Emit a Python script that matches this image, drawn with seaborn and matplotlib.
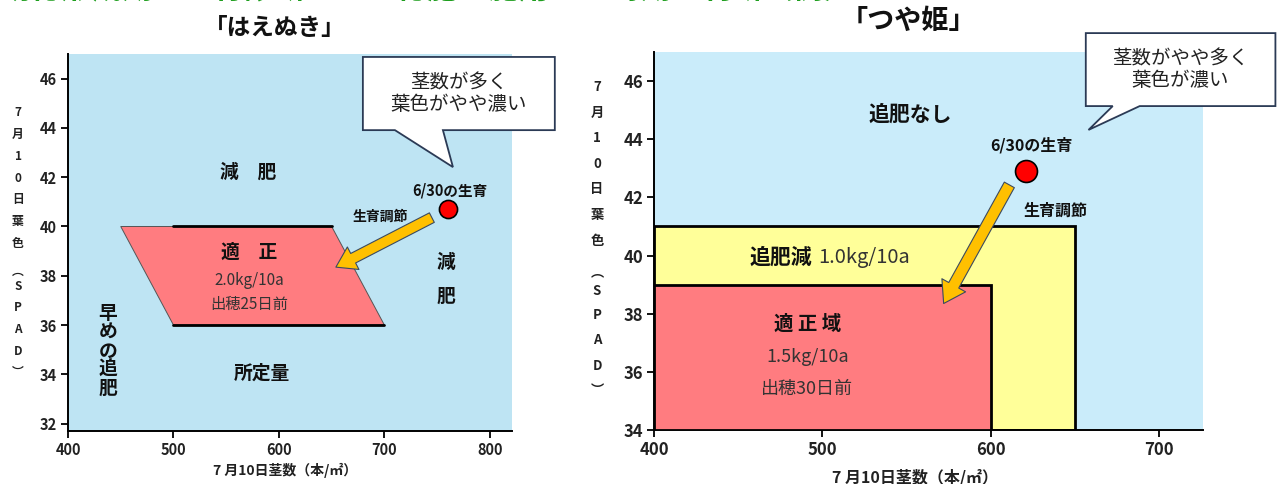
import matplotlib
matplotlib.use("Agg")
import matplotlib.pyplot as plt
from matplotlib.patches import Polygon, Rectangle
import seaborn as sns

W, H = 1280, 484

# はえぬき
haenuki_x_ticks = [400, 500, 600, 700, 800]
haenuki_y_ticks = [32, 34, 36, 38, 40, 42, 44, 46]
haenuki_opt_x = [450, 650, 700, 500]
haenuki_opt_y = [40, 40, 36, 36]
haenuki_now_x = [760]
haenuki_now_y = [40.7]
haenuki_target = (654, 38.35)

# つや姫
tsuya_x_ticks = [400, 500, 600, 700]
tsuya_y_ticks = [34, 36, 38, 40, 42, 44, 46]
tsuya_reduce_x = [400, 650]
tsuya_reduce_y = [34, 41]
tsuya_opt_x = [400, 600]
tsuya_opt_y = [34, 39]
tsuya_now_x = [621]
tsuya_now_y = [42.9]
tsuya_target = (572, 38.35)

YLABEL_CHARS = ["7", "月", "1", "0", "日", "葉", "色", "︵", "S", "P", "A", "D", "︶"]
YLABEL_SLOTS = [0, 1, 2, 3, 4, 5, 6, 7.25, 7.95, 8.9, 9.9, 10.9, 11.85]

sns.set_style("white")
plt.rcParams["font.family"] = ["Noto Sans CJK JP", "DejaVu Sans"]

ARROW_C = "#FFC000"
PINK = "#FF7C80"
YELLOW = "#FFFF99"


def style_axes(ax, xticks, yticks, size):
    ax.set_xticks(xticks)
    ax.set_yticks(yticks)
    for s in ["top", "right"]:
        ax.spines[s].set_visible(False)
    for s in ["left", "bottom"]:
        ax.spines[s].set_color("black")
        ax.spines[s].set_linewidth(1.4)
    ax.tick_params(direction="out", length=5, width=1.3, labelsize=size,
                   left=True, bottom=True, colors="black", pad=3)
    plt.setp(ax.get_xticklabels() + ax.get_yticklabels(), fontweight="bold",
             color="#222222")
    ax.set_xlabel("")
    ax.set_ylabel("")


def bubble(ax, x0, x1, yb, yt, base_l, base_r, tip, text, size):
    pts = [(x0, yt), (x1, yt), (x1, yb), (base_r, yb), tip, (base_l, yb), (x0, yb)]
    ax.add_patch(Polygon(pts, closed=True, fc="white", ec="#2B3A55", lw=1.3,
                         clip_on=False, zorder=6))
    ax.text((x0 + x1) / 2, (yb + yt) / 2, text, ha="center", va="center",
            fontsize=size, color="#222222", linespacing=1.0, zorder=7,
            clip_on=False)


def vertical_label(x_px, y0_px, step_px, size):
    for ch, s in zip(YLABEL_CHARS, YLABEL_SLOTS):
        fig.text(x_px / W, 1 - (y0_px + s * step_px) / H, ch, ha="center",
                 va="center", fontsize=size, fontweight="bold", color="#222222")


def growth_arrow(ax, tail, head, scale):
    ax.annotate("", xy=head, xytext=tail, zorder=5,
                arrowprops=dict(arrowstyle="simple,head_width=1.3,head_length=1.0,tail_width=0.55",
                                mutation_scale=scale, fc=ARROW_C, ec="#3A4A60",
                                lw=0.8, shrinkA=0, shrinkB=0))


fig = plt.figure(figsize=(W / 100, H / 100), dpi=100)

# 見出し（上端で切れている）
fig.text(0.0, 1 + 1.5 / H, "幼穂形成期の生育診断による穂肥の施用量と時期の判断（例）",
         ha="left", va="baseline", fontsize=22, fontweight="bold", color="#1E9E1E")

# ---------- はえぬき ----------
ax1 = fig.add_axes([68 / W, 1 - 431 / H, (512 - 68) / W, (431 - 54) / H])
ax1.set_facecolor("#BEE4F3")
ax1.set_xlim(400, 821)
ax1.set_ylim(31.7, 47)

ax1.add_patch(Polygon(list(zip(haenuki_opt_x, haenuki_opt_y)), closed=True,
                      fc=PINK, ec="#555555", lw=0.7, zorder=2))
ax1.plot([haenuki_opt_x[3], haenuki_opt_x[1]], [haenuki_opt_y[0]] * 2,
         color="black", lw=2, zorder=3)
ax1.plot([haenuki_opt_x[3], haenuki_opt_x[2]], [haenuki_opt_y[2]] * 2,
         color="black", lw=2, zorder=3)

sns.scatterplot(x=haenuki_now_x, y=haenuki_now_y, s=170, color="#FF0000",
                edgecolor="black", linewidth=1.2, ax=ax1, zorder=6, legend=False)
growth_arrow(ax1, (745, 40.36), haenuki_target, 14)

style_axes(ax1, haenuki_x_ticks, haenuki_y_ticks, 10.5)

bold = dict(ha="center", va="center", fontweight="bold", color="#111111")
thin = dict(ha="center", va="center", color="#333333")
ax1.text(571, 42.2, "減　肥", fontsize=13.5, **bold)
ax1.text(762, 41.45, "6/30の生育", fontsize=10.5, **bold)
ax1.text(696, 40.38, "生育調節", fontsize=10, **bold)
ax1.text(572, 38.95, "適　正", fontsize=13.5, **bold)
ax1.text(572, 37.8, "2.0kg/10a", fontsize=11, **thin)
ax1.text(572, 36.85, "出穂25日前", fontsize=11, **thin)
ax1.text(758, 38.55, "減", fontsize=13.5, **bold)
ax1.text(758, 37.15, "肥", fontsize=13.5, **bold)
ax1.text(584, 34.05, "所定量", fontsize=13.5, **bold)
for i, ch in enumerate("早めの追肥"):
    ax1.text(438, 36.45 - i * 0.75, ch, fontsize=13.5, **bold)

bubble(ax1, 679.6, 861.6, 43.91, 46.88, 710, 755.5, (765, 42.41),
       "茎数が多く\n葉色がやや濃い", 14)

fig.text(275 / W, 1 - 28 / H, "「はえぬき」", ha="center", va="center",
         fontsize=17, fontweight="bold", color="#111111")
fig.text(285 / W, 1 - 470 / H, "7 月10日茎数（本/㎡）", ha="center", va="center",
         fontsize=10, fontweight="bold", color="#222222")
vertical_label(18, 112, 22, 8.5)

# ---------- つや姫 ----------
ax2 = fig.add_axes([654 / W, 1 - 430 / H, (1203 - 654) / W, (430 - 52) / H])
ax2.set_facecolor("#CAECFA")
ax2.set_xlim(400, 726)
ax2.set_ylim(34, 47)

ax2.add_patch(Rectangle((tsuya_reduce_x[0], tsuya_reduce_y[0]),
                        tsuya_reduce_x[1] - tsuya_reduce_x[0],
                        tsuya_reduce_y[1] - tsuya_reduce_y[0],
                        fc=YELLOW, ec="black", lw=2, zorder=2))
ax2.add_patch(Rectangle((tsuya_opt_x[0], tsuya_opt_y[0]),
                        tsuya_opt_x[1] - tsuya_opt_x[0],
                        tsuya_opt_y[1] - tsuya_opt_y[0],
                        fc=PINK, ec="black", lw=2, zorder=3))

sns.scatterplot(x=tsuya_now_x, y=tsuya_now_y, s=250, color="#FF0000",
                edgecolor="black", linewidth=1.2, ax=ax2, zorder=6, legend=False)
growth_arrow(ax2, (611, 42.43), tsuya_target, 15)

style_axes(ax2, tsuya_x_ticks, tsuya_y_ticks, 12)
ax2.spines["left"].set_zorder(4)

ax2.text(552, 44.87, "追肥なし", fontsize=15, **bold)
ax2.text(624, 43.8, "6/30の生育", fontsize=11.5, **bold)
ax2.text(638.5, 41.55, "生育調節", fontsize=11.5, **bold)
ax2.text(494, 39.93, "追肥減", fontsize=15, ha="right", va="center",
         fontweight="bold", color="#111111")
ax2.text(497.5, 39.93, "1.0kg/10a", fontsize=14.5, ha="left", va="center",
         color="#333333")
ax2.text(491, 37.62, "適 正 域", fontsize=14, **bold)
ax2.text(491, 36.52, "1.5kg/10a", fontsize=13, **thin)
ax2.text(491, 35.42, "出穂30日前", fontsize=13, **thin)

bubble(ax2, 656.4, 769, 45.14, 47.65, 672.4, 688.4, (658, 44.32),
       "茎数がやや多く\n葉色が濃い", 14)

fig.text(908 / W, 1 - 21 / H, "「つや姫」", ha="center", va="center",
         fontsize=19.5, fontweight="bold", color="#111111")
fig.text(915 / W, 1 - 477 / H, "7 月10日茎数（本/㎡）", ha="center", va="center",
         fontsize=11.5, fontweight="bold", color="#222222")
vertical_label(597, 87, 25.6, 9.5)

fig.savefig("out.png", dpi=100)
